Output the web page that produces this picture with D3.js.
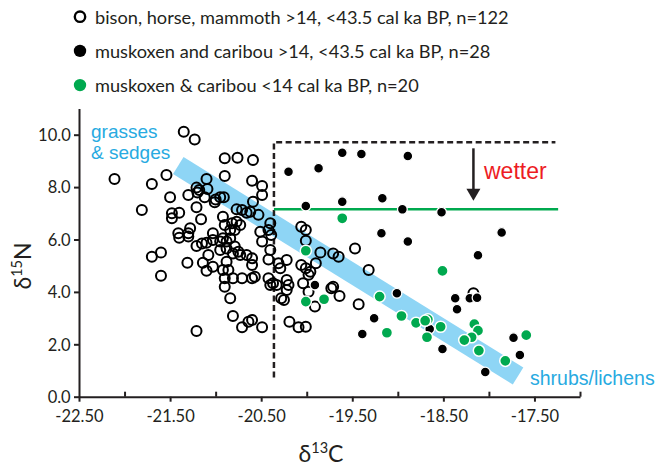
<!DOCTYPE html>
<html>
<head>
<meta charset="utf-8">
<script src="https://cdn.jsdelivr.net/npm/d3@7"></script>
<style>
body { margin: 0; background: #fff; }
svg { display: block; }
</style>
</head>
<body>
<svg id="chart" width="659" height="466"></svg>
<script>
// d13C, d15N readings taken off the figure
var bisonHorseMammoth = [
    [-21.35,10.11],[-21.23,9.82],[-22.11,8.31],[-21.70,8.12],[-21.54,8.46],[-21.81,7.13],[-21.50,7.61],
    [-21.48,7.00],[-21.48,6.81],[-21.40,7.02],[-21.30,7.70],[-21.21,7.98],[-21.18,7.89],[-21.10,8.31],
    [-21.09,7.93],[-21.12,7.61],[-21.21,7.23],[-21.16,6.77],[-21.41,6.24],[-21.40,6.07],[-21.30,6.24],
    [-21.30,6.11],[-21.28,6.43],[-21.70,5.34],[-21.60,5.50],[-21.60,4.62],[-21.31,5.11],[-21.21,5.75],
    [-21.15,5.85],[-21.10,5.88],[-21.14,5.11],[-21.10,4.81],[-21.00,7.53],[-20.95,7.61],[-20.91,7.61],
    [-20.90,8.42],[-20.90,9.10],[-20.76,9.12],[-20.59,9.03],[-20.60,8.24],[-20.49,8.04],[-20.49,7.70],
    [-20.59,7.44],[-21.20,7.79],[-21.01,7.42],[-20.62,7.06],[-20.53,6.94],[-20.66,7.02],[-20.77,7.15],
    [-20.71,7.13],[-20.92,6.87],[-20.90,6.55],[-20.82,6.62],[-20.77,6.68],[-20.73,6.55],[-20.79,6.36],
    [-20.84,6.36],[-20.40,6.62],[-20.42,6.36],[-20.51,6.30],[-21.03,5.98],[-20.95,5.92],[-20.92,6.05],
    [-20.88,5.92],[-20.84,6.05],[-20.79,5.73],[-20.75,5.53],[-20.81,5.47],[-20.73,5.41],[-20.66,5.41],
    [-20.60,5.28],[-20.95,5.60],[-20.88,5.66],[-20.49,5.92],[-20.40,5.60],[-20.42,5.24],[-21.08,5.41],
    [-21.03,4.96],[-20.88,5.15],[-20.92,4.84],[-20.86,4.84],[-20.60,5.03],[-20.90,4.52],[-20.81,4.52],
    [-20.71,4.52],[-20.60,4.52],[-20.57,4.58],[-20.90,4.20],[-20.42,4.52],[-20.37,4.33],[-20.40,4.26],
    [-20.33,4.26],[-20.22,4.45],[-20.20,4.26],[-20.22,4.07],[-20.22,5.22],[-20.29,4.90],[-20.84,3.76],
    [-20.28,3.76],[-20.81,3.08],[-20.71,2.65],[-20.64,2.86],[-20.60,2.93],[-20.49,2.65],[-20.19,2.86],
    [-20.09,2.65],[-20.01,2.67],[-20.25,3.69],[-20.31,5.09],[-20.06,5.03],[-20.01,4.90],[-19.96,4.77],
    [-19.98,4.65],[-19.90,5.09],[-19.85,5.50],[-19.71,5.47],[-19.73,4.14],[-20.04,4.33],[-19.98,4.01],
    [-19.91,3.44],[-20.06,6.49],[-20.01,6.36],[-20.01,5.95],[-19.65,5.34],[-19.47,5.66],[-19.32,4.84],
    [-19.64,3.84],[-19.43,3.53],[-19.71,4.20],[-21.21,2.51],[-21.03,6.24],[-20.39,6.17],[-18.17,3.95]
];

var muskoxCaribouOld = [
    [-20.20,8.59],[-19.87,8.72],[-19.61,9.31],[-19.40,9.26],[-18.89,9.19],[-20.01,7.28],[-19.61,7.44],
    [-19.17,7.57],[-18.95,7.15],[-18.52,7.04],[-19.18,6.24],[-18.89,5.92],[-17.86,6.27],[-18.12,5.40],
    [-19.91,4.26],[-19.01,3.95],[-19.26,2.99],[-19.39,2.39],[-18.37,3.76],[-18.35,3.34],[-18.21,3.76],
    [-18.13,3.78],[-18.65,2.58],[-18.51,1.82],[-18.04,0.94],[-17.73,2.25],[-17.66,1.59]
];

var muskoxCaribouYoung = [
    [-20.01,5.57],[-19.61,6.81],[-18.51,4.80],[-20.01,3.63],[-19.81,3.72],[-19.20,3.82],[-18.96,3.08],
    [-18.80,2.82],[-18.67,2.95],[-18.68,2.27],[-18.53,2.67],[-19.12,2.44],[-18.16,2.77],[-18.12,2.52],
    [-18.19,2.27],[-18.27,2.16],[-18.11,1.76],[-17.82,1.37],[-17.59,2.35],[-18.70,2.90]
];

var legendLabels = [
    "bison, horse, mammoth >14, <43.5 cal ka BP, n=122",
    "muskoxen and caribou >14, <43.5 cal ka BP, n=28",
    "muskoxen & caribou <14 cal ka BP, n=20"
];

var xTickValues = [-22.5,-22,-21.5,-21,-20.5,-20,-19.5,-19,-18.5,-18,-17.5,-17];
var xLabelled = [-22.5,-21.5,-20.5,-19.5,-18.5,-17.5];
var yTickValues = [0,2,4,6,8,10];

// trend band and "wetter" box, in data units
var bandEnds = [[-21.41,8.82],[-17.68,0.79]];
var boxLeft = -20.36, boxRight = -17.27, boxBottom = 0.73, boxTop = 9.71;
var wetLine = 7.15, wetLineRight = -17.24;
var arrowX = -18.17, arrowFrom = 9.48, arrowTo = 7.48;

var ink = "#231f20";
var green = "#00a94f";
var blue = "#8ed5f5";
var blueText = "#27aae1";

var svg = d3.select("#chart");

var xScale = d3.scaleLinear().domain([-22.5, -17]).range([79, 580]);
var yScale = d3.scaleLinear().domain([0, 11]).range([396.7, 108.5]);

// blue band
svg.append("line")
    .attr("x1", xScale(bandEnds[0][0])).attr("y1", yScale(bandEnds[0][1]))
    .attr("x2", xScale(bandEnds[1][0])).attr("y2", yScale(bandEnds[1][1]))
    .attr("stroke", blue)
    .attr("stroke-width", 20)
    .attr("stroke-linecap", "butt");

// dashed box (left + top)
svg.append("path")
    .attr("d", "M" + xScale(boxLeft) + "," + yScale(boxBottom) +
               "V" + yScale(boxTop) + "H" + xScale(boxRight))
    .attr("fill", "none")
    .attr("stroke", ink)
    .attr("stroke-width", 2.5)
    .attr("stroke-dasharray", "6,3.5");

// green reference line
svg.append("line")
    .attr("x1", xScale(boxLeft)).attr("x2", xScale(wetLineRight))
    .attr("y1", yScale(wetLine)).attr("y2", yScale(wetLine))
    .attr("stroke", green)
    .attr("stroke-width", 2.5);

// arrow
svg.append("line")
    .attr("x1", xScale(arrowX)).attr("x2", xScale(arrowX))
    .attr("y1", yScale(arrowFrom)).attr("y2", yScale(arrowTo) - 10)
    .attr("stroke", ink)
    .attr("stroke-width", 2.5);
svg.append("path")
    .attr("d", "M" + (xScale(arrowX) - 7) + "," + (yScale(arrowTo) - 12) +
               "L" + (xScale(arrowX) + 7) + "," + (yScale(arrowTo) - 12) +
               "L" + xScale(arrowX) + "," + yScale(arrowTo) + "Z")
    .attr("fill", ink);

// annotations
svg.append("text").attr("x", 484).attr("y", 178.5)
    .attr("font-family", "Liberation Sans, Arial, sans-serif").attr("font-size", 23)
    .attr("fill", "#ed1c24").text("wetter");
svg.append("text").attr("x", 91).attr("y", 138)
    .attr("font-family", "Liberation Sans, Arial, sans-serif").attr("font-size", 19)
    .attr("fill", blueText).text("grasses");
svg.append("text").attr("x", 91).attr("y", 159)
    .attr("font-family", "Liberation Sans, Arial, sans-serif").attr("font-size", 19)
    .attr("fill", blueText).text("& sedges");
svg.append("text").attr("x", 530).attr("y", 385)
    .attr("font-family", "Liberation Sans, Arial, sans-serif").attr("font-size", 19.5)
    .attr("fill", blueText).text("shrubs/lichens");

// points
svg.append("g").selectAll("circle").data(bisonHorseMammoth).enter()
    .append("circle")
    .attr("cx", function (d) {return xScale(d[0]);})
    .attr("cy", function (d) {return yScale(d[1]);})
    .attr("r", 5)
    .attr("fill", "none")
    .attr("stroke", "#000")
    .attr("stroke-width", 2);

svg.append("g").selectAll("circle").data(muskoxCaribouOld).enter()
    .append("circle")
    .attr("cx", function (d) {return xScale(d[0]);})
    .attr("cy", function (d) {return yScale(d[1]);})
    .attr("r", 4.9)
    .attr("fill", "#000")
    .attr("stroke", "#fff")
    .attr("stroke-width", 1.3);

svg.append("g").selectAll("circle").data(muskoxCaribouYoung).enter()
    .append("circle")
    .attr("cx", function (d) {return xScale(d[0]);})
    .attr("cy", function (d) {return yScale(d[1]);})
    .attr("r", 5.6)
    .attr("fill", green)
    .attr("stroke", "#fff")
    .attr("stroke-width", 1.5);

// axes
var xAxis = d3.axisBottom(xScale)
    .tickValues(xTickValues)
    .tickSize(5)
    .tickSizeOuter(0)
    .tickFormat(function (d) {return xLabelled.indexOf(d) >= 0 ? d.toFixed(2) : "";});

var gx = svg.append("g")
    .attr("transform", "translate(0," + yScale(0) + ")")
    .call(xAxis);
gx.selectAll(".tick line")
    .attr("y2", function (d) {return xLabelled.indexOf(d) >= 0 ? 5 : -5;});

var yAxis = d3.axisLeft(yScale)
    .tickValues(yTickValues)
    .tickSize(5)
    .tickSizeOuter(0)
    .tickFormat(function (d) {return d.toFixed(1);});

var gy = svg.append("g")
    .attr("transform", "translate(" + xScale(-22.5) + ",0)")
    .call(yAxis);

[gx, gy].forEach(function (g) {
    g.select(".domain").attr("stroke", ink).attr("stroke-width", 2);
    g.selectAll(".tick line").attr("stroke", ink).attr("stroke-width", 2);
    g.selectAll(".tick text")
        .attr("font-family", "Lato, sans-serif")
        .attr("font-size", 16.5)
        .attr("fill", ink);
});
gx.selectAll(".tick text").attr("y", 25.5).attr("dy", 0);
gy.selectAll(".tick text").attr("x", -8.3).attr("dy", "0.35em");

// axis titles
var xt = svg.append("text")
    .attr("x", 321).attr("y", 462)
    .attr("text-anchor", "middle")
    .attr("font-family", "Lato, sans-serif").attr("font-size", 23).attr("fill", ink);
xt.append("tspan").text("δ");
xt.append("tspan").attr("font-size", 14.5).attr("dy", -9).text("13");
xt.append("tspan").attr("dy", 9).text("C");

var yt = svg.append("text")
    .attr("transform", "translate(31,266) rotate(-90)")
    .attr("text-anchor", "middle")
    .attr("font-family", "Lato, sans-serif").attr("font-size", 23).attr("fill", ink);
yt.append("tspan").text("δ");
yt.append("tspan").attr("font-size", 14.5).attr("dy", -9).text("15");
yt.append("tspan").attr("dy", 9).text("N");

// legend
var legend = svg.append("g").selectAll("g").data(legendLabels).enter()
    .append("g")
    .attr("transform", function (d, i) {return "translate(0," + (16.7 + i * 34.2) + ")";});

legend.append("circle")
    .attr("cx", 80)
    .attr("r", function (d, i) {return i === 0 ? 5.2 : 6.2;})
    .attr("fill", function (d, i) {return ["#fff", "#000", green][i];})
    .attr("stroke", function (d, i) {return i === 0 ? "#000" : "none";})
    .attr("stroke-width", 2.4);

legend.append("text")
    .attr("x", 95)
    .attr("y", 6.8)
    .attr("font-family", "Lato, sans-serif")
    .attr("font-size", 18.2)
    .attr("fill", ink)
    .text(function (d) {return d;});
</script>
</body>
</html>
